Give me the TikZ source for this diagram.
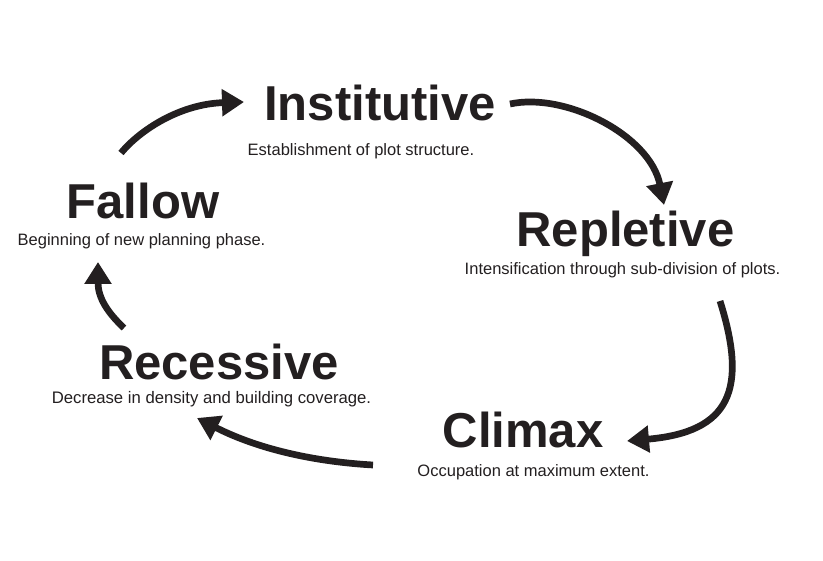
\documentclass[tikz,border=0pt]{standalone}
\usepackage{fontspec}
\setmainfont{Liberation Sans}
\usetikzlibrary{arrows.meta}
\definecolor{ink}{RGB}{35,31,32}
\begin{document}
\begin{tikzpicture}[x=1pt,y=-1pt,
  title/.style={anchor=base,inner sep=0pt,font=\fontsize{49}{49}\selectfont\bfseries,text=ink},
  sub/.style={anchor=base,inner sep=0pt,font=\fontsize{16.5}{18}\selectfont,text=ink},
  cyc/.style={draw=ink,line width=6.7pt,-{Triangle[length=22pt,width=26pt]}}]
\useasboundingbox (0,0) rectangle (823,561);
\fill[white] (0,0) rectangle (823,561);
% titles
\node[title] (inst) at (380,121) {Institutive};
\node[sub] (instd) at (361,156) {Establishment of plot structure.};
\node[title] (rep) at (625.5,247) {Repletive};
\node[sub] (repd) at (622.5,275) {Intensification through sub-division of plots.};
\node[title] (cli) at (523,448) {Climax};
\node[sub] (clid) at (533.5,477) {Occupation at maximum extent.};
\node[title] (rec) at (219,380) {Recessive};
\node[sub,font=\fontsize{16.7}{18}\selectfont] (recd) at (211.5,404) {Decrease in density and building coverage.};
\node[title] (fal) at (143,219) {Fallow};
\node[sub] (fald) at (141.5,246) {Beginning of new planning phase.};
% arrow end points
\coordinate (a1s) at (121,153);
\coordinate (a1e) at (244,102);
\coordinate (a2s) at (510,104);
\coordinate (a2e) at (664,205);
\coordinate (a3s) at (720,301);
\coordinate (a3e) at (627,441);
\coordinate (a4s) at (373,465);
\coordinate (a4e) at (197,418);
\coordinate (a5s) at (124,328);
\coordinate (a5e) at (98,262);
% arrows
\draw[cyc] (a1s) .. controls (140,130) and (180,104) .. (a1e);
\draw[cyc] (a2s) .. controls (565,92) and (650,135) .. (a2e);
\draw[cyc] (a3s) .. controls (748,390) and (730,432) .. (a3e);
\draw[cyc] (a4s) .. controls (320,462) and (262,451) .. (a4e);
\draw[cyc] (a5s) .. controls (108,313) and (98,298) .. (a5e);
\end{tikzpicture}
\end{document}
